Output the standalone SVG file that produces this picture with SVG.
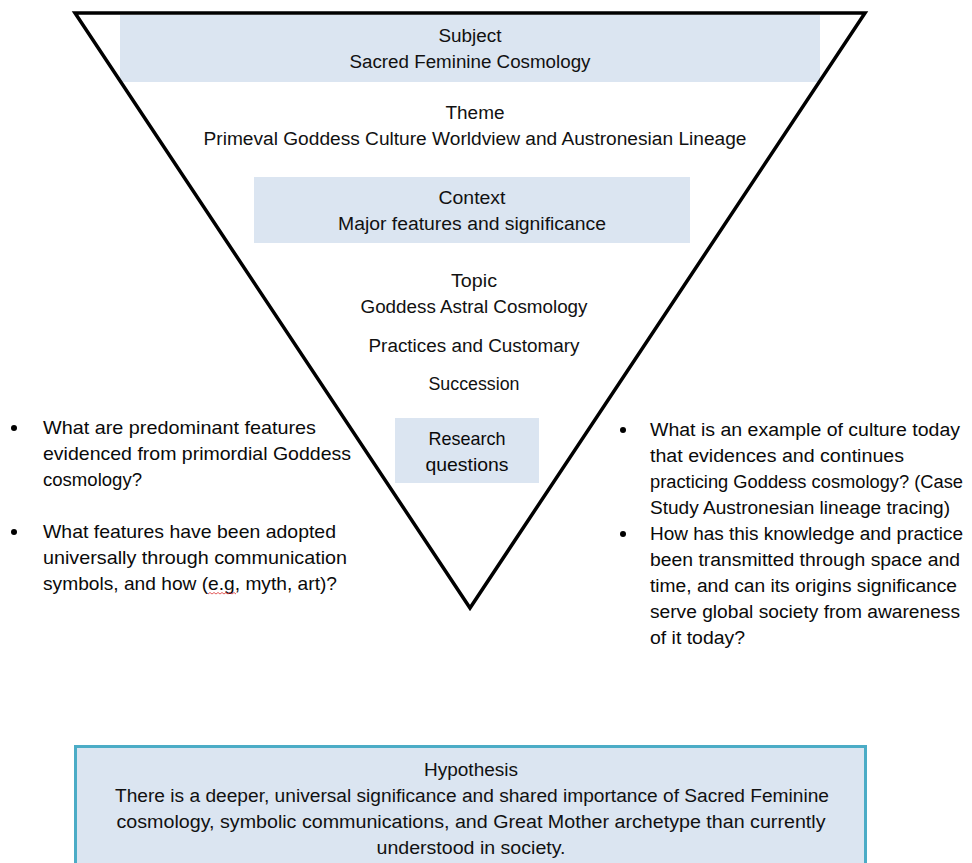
<svg xmlns="http://www.w3.org/2000/svg" width="972" height="863" viewBox="0 0 972 863">
<style>
.t{font-family:"Liberation Sans",Arial,sans-serif;font-size:18px;fill:#111}
.s{font-size:19px;fill:#0a0a0a}
.r{font-size:18px;fill:#0a0a0a}
.c{text-anchor:middle}
.box{fill:#dbe5f1}
</style>
<rect width="972" height="863" fill="#fff"/>
<g id="hypothesis">
<rect x="75.5" y="746.5" width="790" height="130" fill="#dbe5f1" stroke="#4bacc6" stroke-width="3"/>
<text class="t c" x="471" y="776" textLength="94" lengthAdjust="spacingAndGlyphs">Hypothesis</text>
<text class="t c" x="472" y="802" textLength="714" lengthAdjust="spacingAndGlyphs">There is a deeper, universal significance and shared importance of Sacred Feminine</text>
<text class="t c" x="471" y="828" textLength="709" lengthAdjust="spacingAndGlyphs">cosmology, symbolic communications, and Great Mother archetype than currently</text>
<text class="t c" x="471" y="854" textLength="189" lengthAdjust="spacingAndGlyphs">understood in society.</text>
</g>
<g id="subject">
<rect class="box" x="120" y="15" width="700" height="67"/>
<text class="t c" x="470" y="42" textLength="63" lengthAdjust="spacingAndGlyphs">Subject</text>
<text class="t c" x="470" y="68" textLength="241" lengthAdjust="spacingAndGlyphs">Sacred Feminine Cosmology</text>
</g>
<g id="context">
<rect class="box" x="254" y="177" width="436" height="66"/>
<text class="t c" x="472" y="204" textLength="67" lengthAdjust="spacingAndGlyphs">Context</text>
<text class="t c" x="472" y="230" textLength="268" lengthAdjust="spacingAndGlyphs">Major features and significance</text>
</g>
<g id="research">
<rect class="box" x="395" y="418" width="144" height="65"/>
<text class="t s c" x="467" y="445" textLength="77" lengthAdjust="spacingAndGlyphs">Research</text>
<text class="t s c" x="467" y="471" textLength="83" lengthAdjust="spacingAndGlyphs">questions</text>
</g>
<g id="funnel">
<polygon points="75,13 865,13 470,608" fill="none" stroke="#000" stroke-width="3.5" stroke-linejoin="miter"/>
</g>
<g id="theme">
<text class="t c" x="475" y="119" textLength="59" lengthAdjust="spacingAndGlyphs">Theme</text>
<text class="t c" x="475" y="145" textLength="543" lengthAdjust="spacingAndGlyphs">Primeval Goddess Culture Worldview and Austronesian Lineage</text>
</g>
<g id="topic">
<text class="t c" x="474" y="287" textLength="46" lengthAdjust="spacingAndGlyphs">Topic</text>
<text class="t c" x="474" y="313" textLength="227" lengthAdjust="spacingAndGlyphs">Goddess Astral Cosmology</text>
<text class="t c" x="474" y="352" textLength="211" lengthAdjust="spacingAndGlyphs">Practices and Customary</text>
<text class="t c" x="474" y="390" textLength="91" lengthAdjust="spacingAndGlyphs">Succession</text>
</g>
<g id="left-questions">
<circle cx="14" cy="428" r="3"/>
<circle cx="14" cy="532" r="3"/>
<text class="t s" x="43" y="434" textLength="273" lengthAdjust="spacingAndGlyphs">What are predominant features</text>
<text class="t s" x="43" y="460" textLength="308" lengthAdjust="spacingAndGlyphs">evidenced from primordial Goddess</text>
<text class="t s" x="43" y="486" textLength="99" lengthAdjust="spacingAndGlyphs">cosmology?</text>
<text class="t s" x="43" y="538" textLength="293" lengthAdjust="spacingAndGlyphs">What features have been adopted</text>
<text class="t s" x="43" y="564" textLength="304" lengthAdjust="spacingAndGlyphs">universally through communication</text>
<text class="t s" x="43" y="590" textLength="294" lengthAdjust="spacingAndGlyphs">symbols, and how (e.g, myth, art)?</text>
<path d="M208,594 l2,-1.5 l2,1.5 l2,-1.5 l2,1.5 l2,-1.5 l2,1.5 l2,-1.5 l2,1.5 l2,-1.5 l2,1.5 l2,-1.5 l2,1.5 l2,-1.5 l2,1.5" fill="none" stroke="#d33" stroke-width="0.8"/>
</g>
<g id="right-questions">
<circle cx="623" cy="430" r="3"/>
<circle cx="623" cy="534" r="3"/>
<text class="t r" x="650" y="436" textLength="310" lengthAdjust="spacingAndGlyphs">What is an example of culture today</text>
<text class="t r" x="650" y="462" textLength="254" lengthAdjust="spacingAndGlyphs">that evidences and continues</text>
<text class="t r" x="650" y="488" textLength="313" lengthAdjust="spacingAndGlyphs">practicing Goddess cosmology? (Case</text>
<text class="t r" x="650" y="514" textLength="300" lengthAdjust="spacingAndGlyphs">Study Austronesian lineage tracing)</text>
<text class="t r" x="650" y="540" textLength="313" lengthAdjust="spacingAndGlyphs">How has this knowledge and practice</text>
<text class="t r" x="650" y="566" textLength="310" lengthAdjust="spacingAndGlyphs">been transmitted through space and</text>
<text class="t r" x="650" y="592" textLength="307" lengthAdjust="spacingAndGlyphs">time, and can its origins significance</text>
<text class="t r" x="650" y="618" textLength="310" lengthAdjust="spacingAndGlyphs">serve global society from awareness</text>
<text class="t r" x="650" y="644" textLength="95" lengthAdjust="spacingAndGlyphs">of it today?</text>
</g>
</svg>
